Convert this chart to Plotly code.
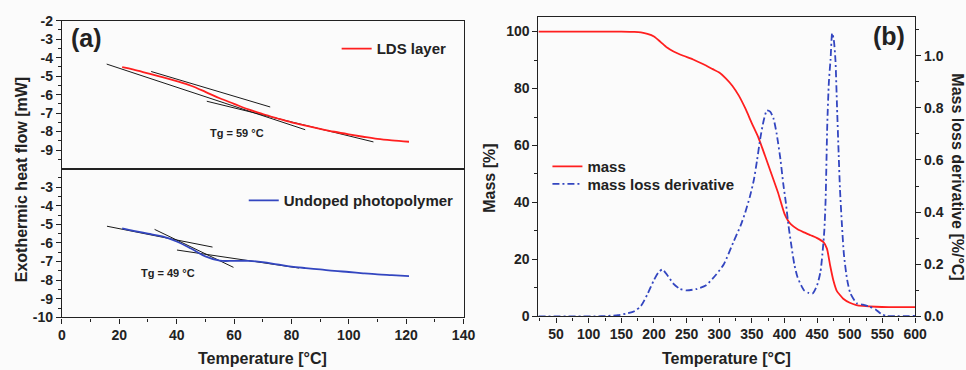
import plotly.graph_objects as go

# ---------------- data: panel (a) DSC ----------------
T_lds = [21, 25, 30, 35, 40, 45, 50, 55, 60, 65, 70, 75, 80, 85, 90, 95, 100, 105, 110, 115, 121]
hf_lds = [-4.52, -4.65, -4.85, -5.05, -5.27, -5.52, -5.85, -6.2, -6.5, -6.8, -7.05, -7.28, -7.5,
          -7.68, -7.85, -8.01, -8.15, -8.28, -8.4, -8.48, -8.55]

T_und = [21, 25, 30, 35, 40, 45, 50, 55, 60, 65, 70, 75, 80, 85, 90, 95, 100, 105, 110, 115, 121]
hf_und = [-5.22, -5.35, -5.5, -5.65, -5.92, -6.3, -6.72, -6.95, -6.96, -6.96, -7.03, -7.15, -7.27,
          -7.35, -7.42, -7.5, -7.56, -7.63, -7.69, -7.73, -7.78]

tan_lds_T = [[15.6, 84.8], [31.1, 72.6], [50.5, 108.6]]
tan_lds_v = [[-4.35, -7.9], [-4.75, -6.67], [-6.36, -8.56]]
tan_und_T = [[15.7, 52.5], [32.3, 59.8], [40.1, 82.7]]
tan_und_v = [[-5.1, -6.22], [-5.27, -7.31], [-6.38, -7.35]]

tg_labels = ["Tg = 59 °C", "Tg = 49 °C"]
tg_T = [61, 37]
tg_v = [-8.08, -7.63]

y_top_ticks = [-2, -3, -4, -5, -6, -7, -8, -9]
y_bot_ticks = [-3, -4, -5, -6, -7, -8, -9, -10]

# ---------------- data: panel (b) TGA ----------------
T_mass = [23, 100, 150, 170, 180, 190, 200, 210, 220, 230, 245, 260, 275, 290, 300, 310, 320, 330,
          340, 350, 360, 370, 380, 390, 400, 405, 410, 420, 430, 440, 450, 460, 465, 470, 475, 480,
          485, 490, 500, 510, 520, 540, 560, 600]
mass = [100, 100, 100, 99.9, 99.7, 99.2, 98.3, 96.4, 94.4, 93.0, 91.5, 90.2, 88.6, 86.8, 85.6, 83.6,
        81.0, 77.5, 73.0, 67.8, 62.8, 56.5, 50.0, 43.5, 36.0, 33.8, 32.3, 30.6, 29.5, 28.5, 27.5,
        26.0, 23.8, 17.8, 12.5, 9.0, 7.5, 6.2, 4.8, 4.0, 3.7, 3.4, 3.3, 3.3]

T_der = [23, 110, 130, 145, 160, 170, 180, 190, 200, 207, 213, 220, 230, 240, 250, 265, 280, 295,
         307, 322, 333, 340, 347, 353, 358, 363, 368, 373, 378, 383, 388, 394, 398, 402, 406, 410,
         415, 420, 430, 437, 443, 450, 455, 458, 461, 463, 465.5, 468, 470.5, 473, 475.5, 478,
         480.5, 483, 485, 488, 491, 496, 501, 511, 520, 530, 540, 548, 556, 600]
deriv = [0, 0, 0.002, 0.005, 0.012, 0.02, 0.04, 0.085, 0.14, 0.17, 0.18, 0.16, 0.125, 0.105, 0.1,
         0.105, 0.12, 0.16, 0.2, 0.287, 0.35, 0.4, 0.46, 0.523, 0.6, 0.685, 0.75, 0.79, 0.785, 0.76,
         0.7, 0.598, 0.51, 0.437, 0.35, 0.28, 0.2, 0.15, 0.1, 0.09, 0.088, 0.12, 0.17, 0.238, 0.33,
         0.45, 0.735, 0.9, 0.984, 1.086, 1.06, 0.984, 0.8, 0.62, 0.486, 0.35, 0.238, 0.14, 0.088,
         0.05, 0.045, 0.038, 0.026, 0.01, 0.002, 0.002]

# ---------------- figure ----------------
REF_W, REF_H = 966, 370          # reference picture size (positions below are in its pixels)
W, H = 981, 376                  # page size that lands at REF_W x REF_H in the photograph
def px_x(p): return p / REF_W
def px_y(p): return 1 - p / REF_H

RED = "#ff1f1f"
BLUE = "#3346c0"
AX = "#222222"
BG = "#fbfbfb"
FONT = "Liberation Sans, Arial, sans-serif"

fig = go.Figure()

for Ts, vs in zip(tan_lds_T, tan_lds_v):
    fig.add_trace(go.Scatter(x=Ts, y=vs, mode="lines", line=dict(color="#1a1a1a", width=1),
                             showlegend=False, hoverinfo="skip", xaxis="x", yaxis="y"))
fig.add_trace(go.Scatter(x=T_lds, y=hf_lds, mode="lines", name="LDS layer",
                         line=dict(color=RED, width=1.8, shape="spline"),
                         xaxis="x", yaxis="y", legend="legend"))
for Ts, vs in zip(tan_und_T, tan_und_v):
    fig.add_trace(go.Scatter(x=Ts, y=vs, mode="lines", line=dict(color="#1a1a1a", width=1),
                             showlegend=False, hoverinfo="skip", xaxis="x2", yaxis="y2"))
fig.add_trace(go.Scatter(x=T_und, y=hf_und, mode="lines", name="Undoped photopolymer",
                         line=dict(color=BLUE, width=1.8, shape="spline"),
                         xaxis="x2", yaxis="y2", legend="legend2"))
fig.add_trace(go.Scatter(x=T_mass, y=mass, mode="lines", name="mass",
                         line=dict(color=RED, width=1.8, shape="spline", smoothing=0.6),
                         xaxis="x3", yaxis="y3", legend="legend3"))
fig.add_trace(go.Scatter(x=T_der, y=deriv, mode="lines", name="mass loss derivative",
                         line=dict(color=BLUE, width=1.8, dash="7px,3px,2px,3px",
                                   shape="spline", smoothing=0.6),
                         xaxis="x3", yaxis="y4", legend="legend4"))

tickfont = dict(family=FONT, size=14, color=AX, weight="bold")
common = dict(showline=True, linecolor=AX, linewidth=1.3, showgrid=False, zeroline=False,
              tickfont=tickfont, tickcolor=AX, ticklen=5, tickwidth=1.2)
minor_common = dict(ticks="outside", ticklen=3, tickcolor=AX, tickwidth=1.1)
legfont = dict(family=FONT, size=15, color=AX, weight="bold")

def leg(xp, yp):
    return dict(x=px_x(xp), y=px_y(yp), xanchor="left", yanchor="middle",
                bgcolor="rgba(0,0,0,0)", font=legfont)

xa_dom = [px_x(58), px_x(460)]
fig.update_layout(
    width=W, height=H, autosize=False,
    margin=dict(l=0, r=0, t=0, b=0, pad=0),
    paper_bgcolor=BG, plot_bgcolor=BG,
    font=dict(family=FONT, color=AX),
    xaxis=dict(domain=xa_dom, anchor="y", range=[0, 140], mirror=True, ticks="",
               showticklabels=False, **{k: v for k, v in common.items() if k != "tickfont"}),
    yaxis=dict(domain=[px_y(165), px_y(13)], anchor="x", range=[-10, -2], mirror=True,
               ticks="outside", tickvals=y_top_ticks, ticktext=[str(v) for v in y_top_ticks],
               minor=dict(tickvals=[-2.5, -3.5, -4.5, -5.5, -6.5, -7.5, -8.5, -9.5], **minor_common),
               **common),
    xaxis2=dict(domain=xa_dom, anchor="y2", range=[0, 140], mirror=True, ticks="outside",
                tickvals=[0, 20, 40, 60, 80, 100, 120, 140],
                minor=dict(tickvals=[10, 30, 50, 70, 90, 110, 130], **minor_common), **common),
    yaxis2=dict(domain=[px_y(318), px_y(165)], anchor="x2", range=[-10, -2], mirror=True,
                ticks="outside", tickvals=y_bot_ticks, ticktext=[str(v) for v in y_bot_ticks],
                minor=dict(tickvals=[-2.5, -3.5, -4.5, -5.5, -6.5, -7.5, -8.5, -9.5], **minor_common),
                **common),
    xaxis3=dict(domain=[px_x(535), px_x(912)], anchor="y3", range=[23, 600], mirror=True,
                ticks="outside", tickvals=[50, 100, 150, 200, 250, 300, 350, 400, 450, 500, 550, 600],
                minor=dict(tickvals=[25, 75, 125, 175, 225, 275, 325, 375, 425, 475, 525, 575],
                           **minor_common), **common),
    yaxis3=dict(domain=[px_y(317), px_y(9)], anchor="x3", range=[0, 105.2], ticks="outside",
                tickvals=[0, 20, 40, 60, 80, 100],
                minor=dict(tickvals=[10, 30, 50, 70, 90], **minor_common), **common),
    yaxis4=dict(overlaying="y3", anchor="x3", side="right", range=[0, 1.149], ticks="outside",
                tickvals=[0, 0.2, 0.4, 0.6, 0.8, 1.0], tickformat=".1f",
                minor=dict(tickvals=[0.1, 0.3, 0.5, 0.7, 0.9, 1.1], **minor_common), **common),
    legend=leg(333, 42),
    legend2=leg(240, 198),
    legend3=leg(544, 163),
    legend4=leg(544, 181),
)

annots = [
    dict(text="(a)", x=px_x(83), y=px_y(31), font=dict(size=25, weight="bold")),
    dict(text="(b)", x=px_x(886), y=px_y(29), font=dict(size=25, weight="bold")),
    dict(text="Exothermic heat flow [mW]", x=px_x(17), y=px_y(176), textangle=-90,
         font=dict(size=16, weight="bold")),
    dict(text="Mass [%]", x=px_x(486), y=px_y(175), textangle=-90, font=dict(size=16, weight="bold")),
    dict(text="Mass loss derivative [%/°C]", x=px_x(955), y=px_y(173), textangle=90,
         font=dict(size=16, weight="bold")),
    dict(text="Temperature [°C]", x=px_x(259), y=px_y(360), font=dict(size=16, weight="bold")),
    dict(text="Temperature [°C]", x=px_x(723), y=px_y(360), font=dict(size=16, weight="bold")),
]
for a in annots:
    a.update(xref="paper", yref="paper", showarrow=False, xanchor="center", yanchor="middle")
    a["font"].update(family=FONT, color=AX)
    fig.add_annotation(**a)

fig.add_annotation(text=tg_labels[0], x=tg_T[0], y=tg_v[0], xref="x", yref="y", showarrow=False,
                   font=dict(family=FONT, size=11, color=AX, weight="bold"))
fig.add_annotation(text=tg_labels[1], x=tg_T[1], y=tg_v[1], xref="x2", yref="y2", showarrow=False,
                   font=dict(family=FONT, size=11, color=AX, weight="bold"))

fig.write_html(
    "out.html",
    config={"displayModeBar": False},
    post_script="document.documentElement.style.margin='0';document.documentElement.style.overflow='hidden';"
                "document.body.style.margin='0';document.body.style.overflow='hidden';",
)
